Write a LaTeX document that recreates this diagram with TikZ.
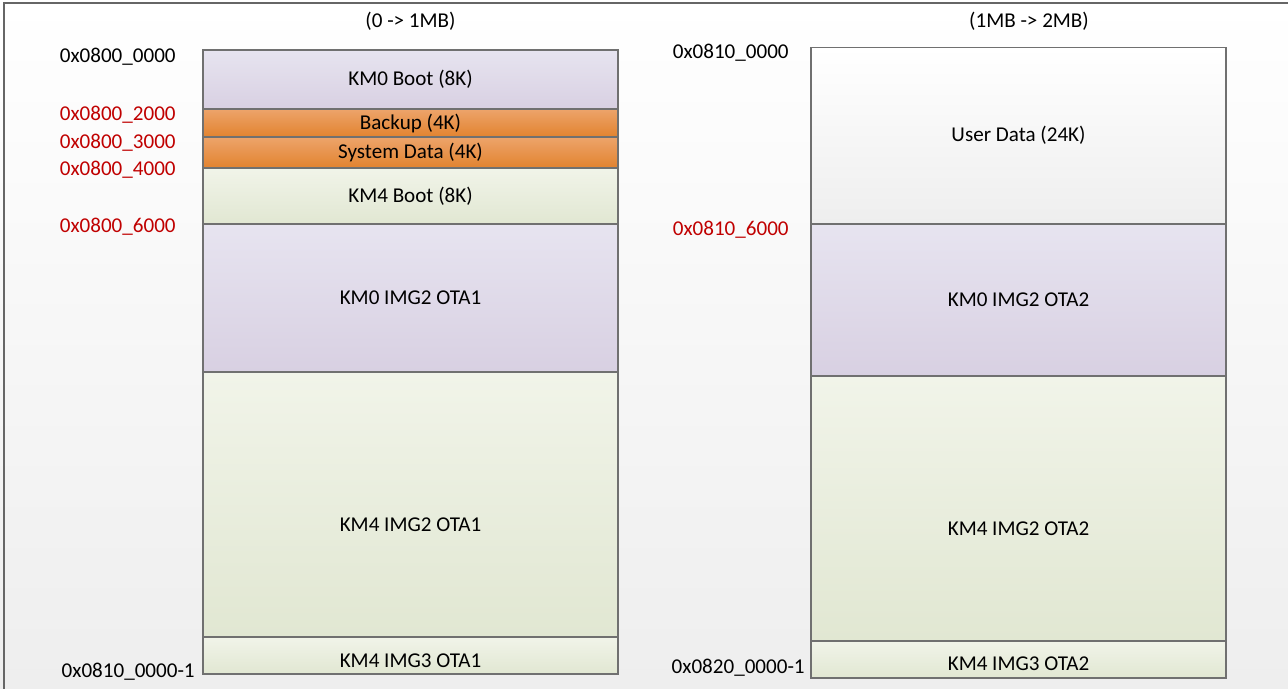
\documentclass[tikz,border=0pt]{standalone}
\usepackage{fontspec}
\setmainfont{Carlito}
\usetikzlibrary{positioning}

\definecolor{addrred}{HTML}{C00000}
\definecolor{edgegray}{HTML}{707070}
\definecolor{framegray}{HTML}{666666}
\definecolor{bgbot}{HTML}{EEEEEE}
\definecolor{kmzerotop}{HTML}{E7E4F0}
\definecolor{kmzerobot}{HTML}{D8D0E2}
\definecolor{kmfourtop}{HTML}{F1F4E9}
\definecolor{kmfourbot}{HTML}{E1E7D2}
\definecolor{systop}{HTML}{EDA46B}
\definecolor{sysbot}{HTML}{E2832F}
\definecolor{userbot}{HTML}{EEEEEE}

\begin{document}
\begin{tikzpicture}[
    font=\fontsize{12}{14}\selectfont,
    region/.style={draw=edgegray, line width=0.8pt, minimum width=8.3cm, inner sep=0pt, outer sep=0pt},
    kmzero/.style={region, top color=kmzerotop, bottom color=kmzerobot},
    kmfour/.style={region, top color=kmfourtop, bottom color=kmfourbot},
    sysarea/.style={region, top color=systop, bottom color=sysbot},
    userarea/.style={region, top color=white, bottom color=userbot},
    addr/.style={anchor=east, inner sep=0pt},
    hotaddr/.style={addr, text=addrred}
  ]
    % page background and frame
    \useasboundingbox[top color=white, bottom color=bgbot] (0,0) rectangle (25.76,-13.78);
    \fill[top color=white, bottom color=bgbot] (0,0) rectangle (25.76,-13.78);
    \draw[line width=0.9pt, framegray] (0.08,-13.9) |- (26,-0.06);

    % first megabyte
    \node (titlea) at (8.21,-0.43) {(0 -> 1MB)};
    \node[kmzero, minimum height=1.18cm, anchor=north] (bootzero) at (8.21,-1.00) {KM0 Boot (8K)};
    \node[sysarea, minimum height=.56cm, below=0pt of bootzero] (backup) {Backup (4K)};
    \node[sysarea, minimum height=.62cm, below=0pt of backup] (sysdata) {System Data (4K)};
    \node[kmfour, minimum height=1.12cm, below=0pt of sysdata] (bootfour) {KM4 Boot (8K)};
    \node[kmzero, minimum height=2.96cm, below=0pt of bootfour] (imgzeroa) {KM0 IMG2 OTA1};
    \node[kmfour, minimum height=5.30cm, text height=1.1cm, below=0pt of imgzeroa] (imgfoura) {KM4 IMG2 OTA1};
    \node[kmfour, minimum height=.74cm, text height=.5cm, below=0pt of imgfoura] (imgthreea) {KM4 IMG3 OTA1};

    \node[addr] (addrzero) at (3.52,-1.14) {0x0800\_0000};
    \node[hotaddr] (addrtwo) at (3.52,-2.30) {0x0800\_2000};
    \node[hotaddr] (addrthree) at (3.52,-2.85) {0x0800\_3000};
    \node[hotaddr] (addrfour) at (3.52,-3.40) {0x0800\_4000};
    \node[hotaddr] (addrsix) at (3.52,-4.53) {0x0800\_6000};
    \node[addr] (addrenda) at (3.90,-13.44) {0x0810\_0000-1};

    % second megabyte
    \node (titleb) at (20.58,-0.43) {(1MB -> 2MB)};
    \node[userarea, minimum height=3.53cm, anchor=north] (userdata) at (20.37,-0.95) {User Data (24K)};
    \node[kmzero, minimum height=3.04cm, below=0pt of userdata] (imgzerob) {KM0 IMG2 OTA2};
    \node[kmfour, minimum height=5.30cm, text height=1.1cm, below=0pt of imgzerob] (imgfourb) {KM4 IMG2 OTA2};
    \node[kmfour, minimum height=.74cm, text height=.45cm, below=0pt of imgfourb] (imgthreeb) {KM4 IMG3 OTA2};

    \node[addr] (addrmb) at (15.78,-1.05) {0x0810\_0000};
    \node[hotaddr] (addrmbsix) at (15.78,-4.60) {0x0810\_6000};
    \node[addr] (addrendb) at (16.10,-13.36) {0x0820\_0000-1};
  \end{tikzpicture}
\end{document}
